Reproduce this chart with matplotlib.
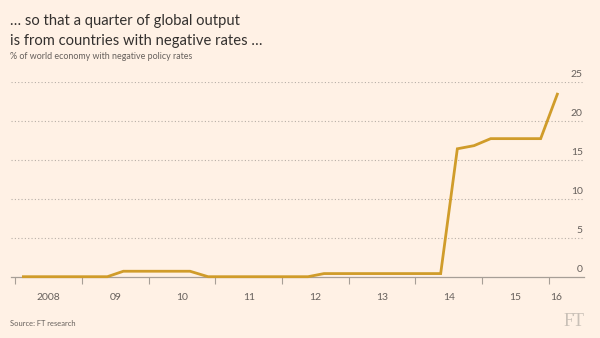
import matplotlib
matplotlib.use("Agg")
import matplotlib.pyplot as plt

# ---- data ----
x_years = [2008.12, 2009.38, 2009.62, 2010.62, 2010.89, 2012.39, 2012.63,
           2014.38, 2014.63, 2014.88, 2015.13, 2015.88, 2016.13]
pct_neg = [0.0, 0.0, 0.7, 0.7, 0.0, 0.0, 0.4,
           0.4, 16.4, 16.8, 17.7, 17.7, 23.4]
year_bounds = [2008, 2009, 2010, 2011, 2012, 2013, 2014, 2015, 2016]
year_label_pos = [2008.5, 2009.5, 2010.5, 2011.5, 2012.5, 2013.5, 2014.5, 2015.5, 2016.12]
year_labels = ["2008", "09", "10", "11", "12", "13", "14", "15", "16"]
y_ticks = [0, 5, 10, 15, 20, 25]

BG = "#fff1e5"
LINE = "#d09c2a"
TXT = "#33302e"
SUB = "#66605c"
GRID = "#b8b0a8"

plt.rcParams['font.family'] = ['Lato', 'DejaVu Sans']

fig = plt.figure(figsize=(6, 3.38), dpi=100, facecolor=BG)
ax = fig.add_axes([10.7/600, 1 - 276.7/338, (584 - 10.7)/600, (276.7 - 81.7)/338])
ax.set_facecolor(BG)
ax.set_xlim(2007.93, 2016.53)
ax.set_ylim(0, 25)

for s in ['top', 'right', 'left']:
    ax.spines[s].set_visible(False)
ax.spines['bottom'].set_color("#a79f97")
ax.spines['bottom'].set_linewidth(0.9)

ax.set_yticks(y_ticks)
ax.tick_params(axis='y', length=0, labelleft=False)
for v in y_ticks[1:]:
    ax.axhline(v, color=GRID, lw=0.8, ls=(0, (1, 2)), zorder=1)
for v in y_ticks:
    ax.text(0.998, v + 0.4, str(v), transform=ax.get_yaxis_transform(),
            ha='right', va='bottom', fontsize=7.5, color=SUB)

ax.set_xticks(year_bounds)
ax.set_xticklabels([])
ax.tick_params(axis='x', length=5, width=0.8, color="#a79f97")
for p, l in zip(year_label_pos, year_labels):
    ax.text(p, -2.1, l, ha='center', va='top', fontsize=7.5, color=SUB)

ax.plot(x_years, pct_neg, color=LINE, lw=2, clip_on=False, zorder=3,
        solid_joinstyle='miter')

fig.text(10/600, 1 - 25/338, "… so that a quarter of global output", fontsize=10.6,
         color=TXT, ha='left', va='baseline')
fig.text(10/600, 1 - 45/338, "is from countries with negative rates …", fontsize=10.6,
         color=TXT, ha='left', va='baseline')
fig.text(10/600, 1 - 59/338, "% of world economy with negative policy rates", fontsize=6.4,
         color=SUB, ha='left', va='baseline')
fig.text(10/600, 1 - 326/338, "Source: FT research", fontsize=5.4,
         color=SUB, ha='left', va='baseline')
fig.text(585/600, 1 - 326/338, "FT", fontsize=13, family='Liberation Serif',
         color="#c9c0b7", ha='right', va='baseline')

fig.savefig("out.png", dpi=100, facecolor=BG)
